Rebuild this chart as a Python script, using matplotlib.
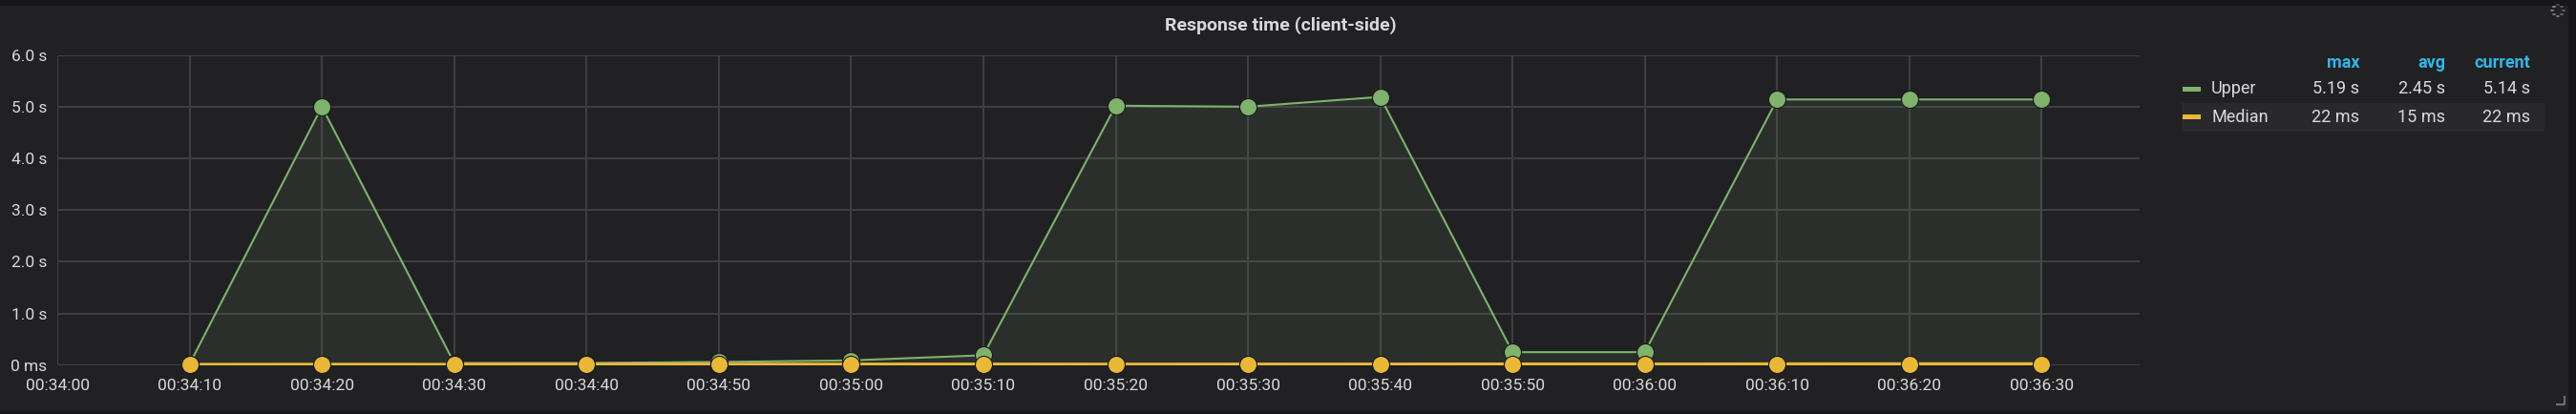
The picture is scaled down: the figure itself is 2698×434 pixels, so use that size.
import matplotlib
matplotlib.use('Agg')
import matplotlib.pyplot as plt
import pandas as pd
from matplotlib.patches import Rectangle
from matplotlib.ticker import FuncFormatter

plt.rcParams['font.family'] = ['Roboto', 'DejaVu Sans']

# data (seconds of response time)
times = ['00:34:10', '00:34:20', '00:34:30', '00:34:40', '00:34:50',
         '00:35:00', '00:35:10', '00:35:20', '00:35:30', '00:35:40',
         '00:35:50', '00:36:00', '00:36:10', '00:36:20', '00:36:30']
upper = [0.02, 5.0, 0.04, 0.04, 0.06, 0.09, 0.19, 5.02, 5.0, 5.19,
         0.25, 0.25, 5.14, 5.14, 5.14]
median = [0.010, 0.012, 0.011, 0.013, 0.014, 0.015, 0.016, 0.014, 0.015,
          0.016, 0.018, 0.017, 0.020, 0.022, 0.022]

tick_times = ['00:34:00', '00:34:10', '00:34:20', '00:34:30', '00:34:40',
              '00:34:50', '00:35:00', '00:35:10', '00:35:20', '00:35:30',
              '00:35:40', '00:35:50', '00:36:00', '00:36:10', '00:36:20',
              '00:36:30']
y_ticks = [0, 1, 2, 3, 4, 5, 6]
y_labels = ['0 ms', '1.0 s', '2.0 s', '3.0 s', '4.0 s', '5.0 s', '6.0 s']

legend_cols = ['max', 'avg', 'current']
legend_rows = [('Upper', '#7eb26d', ['5.19 s', '2.45 s', '5.14 s']),
               ('Median', '#eab839', ['22 ms', '15 ms', '22 ms'])]

x = pd.to_timedelta(times).total_seconds().values
xt = pd.to_timedelta(tick_times).total_seconds().values

PAGE = '#161719'
PANEL = '#212124'
TEXT = '#d8d9da'
GRID = '#3e3e41'

fig = plt.figure(figsize=(26.98, 4.34), dpi=100, facecolor=PAGE)
fig.patches.append(Rectangle((0, 3 / 434), 2690 / 2698, 1 - 9 / 434,
                             transform=fig.transFigure, facecolor=PANEL,
                             edgecolor='none', zorder=0))

ax = fig.add_axes([60 / 2698, 51.3 / 434, (2241 - 60) / 2698, 325 / 434])
ax.set_zorder(2)
ax.set_facecolor(PANEL)
for s in ax.spines.values():
    s.set_visible(False)

ax.set_xlim(xt[0], xt[-1] + 7.4)
ax.set_ylim(0, 6)
ax.set_xticks(xt)
ax.xaxis.set_major_formatter(FuncFormatter(
    lambda v, p: '%02d:%02d:%02d' % (v // 3600, (v % 3600) // 60, v % 60)))
ax.set_yticks(y_ticks)
ax.set_yticklabels(y_labels)
ax.tick_params(length=0, colors=TEXT, labelsize=12.5, pad=8)
ax.tick_params(axis='x', pad=10)
ax.grid(True, color=GRID, linewidth=1.5)
ax.set_axisbelow(True)

ax.fill_between(x, upper, 0, color='#7eb26d', alpha=0.1, linewidth=0, zorder=2)
ax.plot(x, upper, color='#7eb26d', linewidth=1.5, zorder=3)
ax.plot(x, median, color='#eab839', linewidth=2.5, zorder=4)
ax.plot(x, upper, 'o', color='#7eb26d', markersize=13,
        markeredgecolor='#1a1a1a', markeredgewidth=0.8, zorder=5, clip_on=False)
ax.plot(x, median, 'o', color='#eab839', markersize=13,
        markeredgecolor='#1a1a1a', markeredgewidth=0.8, zorder=6, clip_on=False)

fig.text(1341 / 2698, 1 - 27 / 434, 'Response time (client-side)', color=TEXT,
         fontsize=14, fontweight='bold', ha='center', va='center')

# legend table on the right
col_right = [2471, 2561, 2650]
hy = 1 - 66 / 434
for c, xr in zip(legend_cols, col_right):
    fig.text(xr / 2698, hy, c, color='#33b5e5', fontsize=13,
             fontweight='bold', ha='right', va='center')
row_y = [93, 123]
fig.patches.append(Rectangle((2285 / 2698, 1 - 138 / 434), 380 / 2698, 30 / 434,
                             transform=fig.transFigure, facecolor='#29292c',
                             edgecolor='none', zorder=0.5))
for (name, col, vals), ry in zip(legend_rows, row_y):
    yy = 1 - ry / 434
    fig.patches.append(Rectangle((2286 / 2698, yy - 2.5 / 434), 19 / 2698, 5 / 434,
                                 transform=fig.transFigure, facecolor=col,
                                 edgecolor='none', zorder=1))
    fig.text(2316 / 2698, yy, name, color=TEXT, fontsize=13, ha='left', va='center')
    for v, xr in zip(vals, col_right):
        fig.text(xr / 2698, yy, v, color=TEXT, fontsize=13, ha='right', va='center')

# loading spinner and resize corner
sx, sy = 2679, 11
for i, (dx, dy) in enumerate([(0, -6), (4, -4), (6, 0), (4, 4), (0, 6), (-4, 4), (-6, 0), (-4, -4)]):
    fig.patches.append(plt.Circle(((sx + dx) / 2698, 1 - (sy + dy) / 434), 1.3 / 2698,
                                  transform=fig.transFigure, color='#8e8e8e',
                                  alpha=0.4 + 0.07 * i, zorder=2))
fig.lines.append(plt.Line2D([2678 / 2698, 2686 / 2698, 2686 / 2698],
                            [1 - 424 / 434, 1 - 424 / 434, 1 - 416 / 434],
                            transform=fig.transFigure, color='#6e6e6e', linewidth=1.5))

fig.savefig('out.png', dpi=100, facecolor=PAGE)
